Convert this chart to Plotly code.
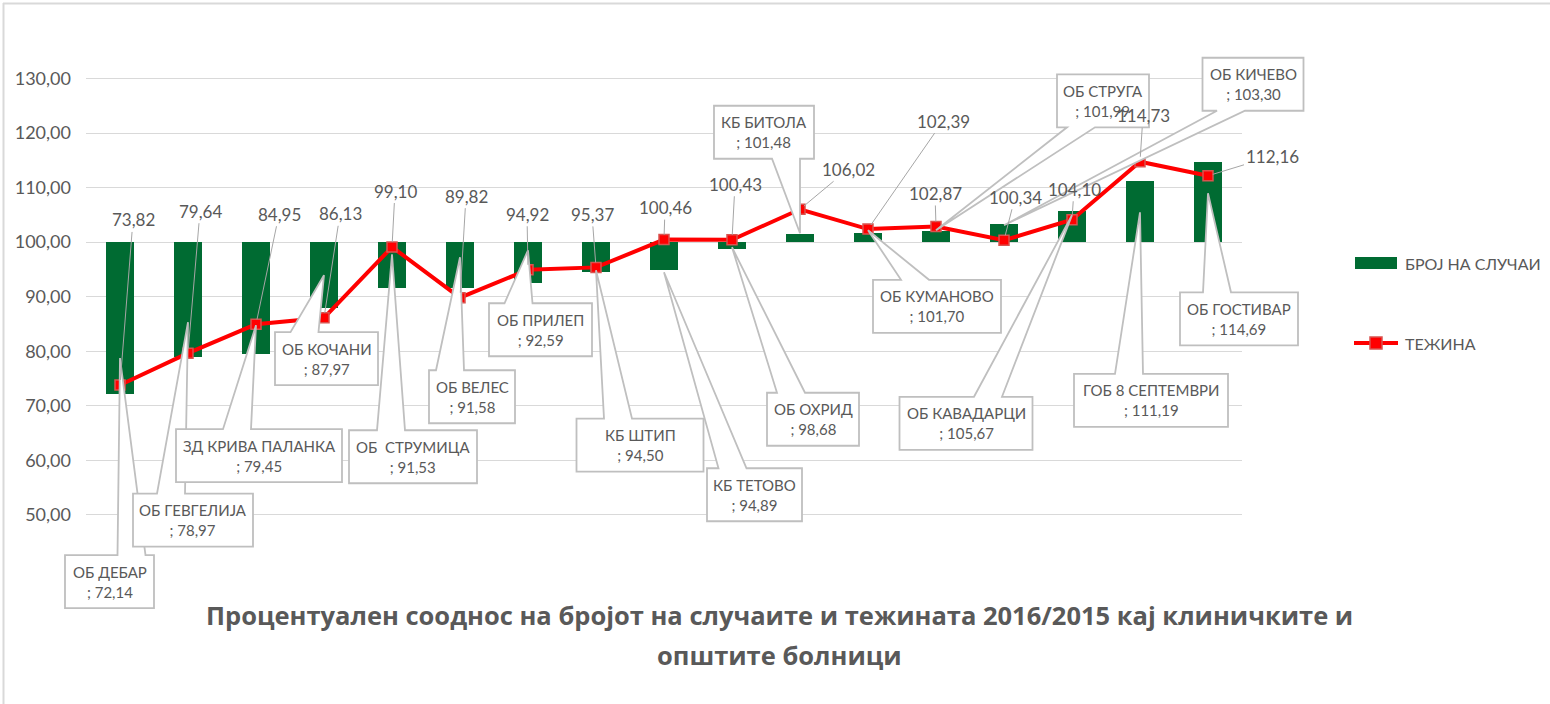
import plotly.graph_objects as go

# ---------------- data ----------------
categories = ["ОБ ДЕБАР", "ОБ ГЕВГЕЛИЈА", "ЗД КРИВА ПАЛАНКА", "ОБ КОЧАНИ",
              "ОБ\u00a0 СТРУМИЦА", "ОБ ВЕЛЕС", "ОБ ПРИЛЕП", "КБ ШТИП", "КБ ТЕТОВО",
              "ОБ ОХРИД", "КБ БИТОЛА", "ОБ КУМАНОВО", "ОБ СТРУГА", "ОБ КИЧЕВО",
              "ОБ КАВАДАРЦИ", "ГОБ 8 СЕПТЕМВРИ", "ОБ ГОСТИВАР"]
cases = [72.14, 78.97, 79.45, 87.97, 91.53, 91.58, 92.59, 94.50, 94.89,
         98.68, 101.48, 101.70, 101.99, 103.30, 105.67, 111.19, 114.69]
weight = [73.82, 79.64, 84.95, 86.13, 99.10, 89.82, 94.92, 95.37, 100.46,
          100.43, 106.02, 102.39, 102.87, 100.34, 104.10, 114.73, 112.16]
y_ticks = [50, 60, 70, 80, 90, 100, 110, 120, 130]
BASE = 100
series_names = ["БРОЈ НА СЛУЧАИ", "ТЕЖИНА"]
title_lines = ["Процентуален сооднос на бројот на случаите и тежината 2016/2015 кај клиничките и",
               "општите болници"]

# ---------------- label placement (pixels / tip values) ----------------
# bar callouts: wedge tip value, box-centre offset from tip (px, +down), box width (px)
callout_tip = [78.74, 85.33, 84.78, 93.94, 97.78, 97.23, 98.51, 94.85, 94.48,
               99.06, 101.63, 102.17, 102.17, 103.09, 104.92, 105.47, 108.95]
callout_dx = [-10.5, 5, 3, 2.5, 21, 12, 12.5, 44, 90.5, 81, -36, 69, 167, 249, -106, 11, 31]
callout_dy = [223.5, 198, 130.5, 83.5, 202.5, 139.5, 79.5, 175, 222.5, 172, -101, 76,
              -129.5, -141, 208, 188, 125.5]
callout_w = [89, 120, 166, 103, 128, 86, 103, 127, 95, 92, 100, 128, 92, 101, 133, 154, 118]
CALLOUT_H = 53
# line labels: offset of text centre from marker (px, +down)
lab_dx = [13, 12, 23, 16, 3, 6, -1, -4, 1, 3, 48, 75, -1, 11, 2, 3, 64]
lab_dy = [-165, -142, -110, -104, -56, -101.5, -55.6, -53, -32, -55.5, -40, -108,
          -33, -43, -30.5, -46, -19.5]

# ---------------- geometry ----------------
FW, FH = 1550, 704
L, R, T, B = 86, 1242, 73, 564
PW, PH = R - L, B - T
XR = (-0.5, len(categories) - 0.5)
YR = (41, 131)

GREEN = "#006B32"
RED = "#FF0000"
GREY_TXT = "#595959"
GRID = "#D9D9D9"
BOX = "#BFBFBF"
FONT = "Lato"


def px(xv):
    return L + (xv - XR[0]) / (XR[1] - XR[0]) * PW


def py(yv):
    return T + (YR[1] - yv) / (YR[1] - YR[0]) * PH


def paper_x(p):
    return (p - L) / PW


def paper_y(p):
    return (B - p) / PH


def fmt(v):
    return f"{v:.2f}".replace(".", ",")


xs = list(range(len(categories)))

fig = go.Figure()
fig.add_trace(go.Bar(
    x=xs, y=[c - BASE for c in cases], base=BASE, width=0.4,
    marker=dict(color=GREEN, line=dict(width=0)), name=series_names[0],
    showlegend=False))
fig.add_trace(go.Scatter(
    x=xs, y=weight, mode="lines+markers", name=series_names[1],
    line=dict(color=RED, width=4),
    marker=dict(symbol="square", size=10, color=RED,
                line=dict(color="#D9534F", width=1.5)),
    showlegend=False))

shapes = []
annotations = []

# bar callouts: box + wedge as one outline (paper coords so nothing is clipped)
for i, (name, val) in enumerate(zip(categories, cases)):
    tx, ty = px(i), py(callout_tip[i])
    cx, cy = tx + callout_dx[i], ty + callout_dy[i]
    w2, h2 = callout_w[i] / 2, CALLOUT_H / 2
    x0, x1, y0, y1 = cx - w2, cx + w2, cy - h2, cy + h2
    s = 1 if tx > cx else -1
    bc = cx + s * min(22, w2 - 16)
    bl, br = bc - 14, bc + 14
    if ty < y0:   # tip above the box
        pts = [(x0, y0), (bl, y0), (tx, ty), (br, y0), (x1, y0), (x1, y1), (x0, y1)]
    else:         # tip below the box
        pts = [(x0, y0), (x1, y0), (x1, y1), (br, y1), (tx, ty), (bl, y1), (x0, y1)]
    path = "M " + " L ".join(f"{paper_x(a):.5f},{paper_y(b):.5f}" for a, b in pts) + " Z"
    shapes.append(dict(type="path", path=path, xref="paper", yref="paper",
                       fillcolor="white", line=dict(color=BOX, width=1.8),
                       layer="above"))
    annotations.append(dict(
        x=i, y=callout_tip[i], xref="x", yref="y",
        text=f"{name}<br>; {fmt(val)}", showarrow=False,
        xshift=callout_dx[i], yshift=-callout_dy[i], xanchor="center",
        yanchor="middle", align="center",
        font=dict(family=FONT, size=15, color=GREY_TXT)))

# line value labels with leader lines
for i, v in enumerate(weight):
    annotations.append(dict(
        x=i, y=v, xref="x", yref="y", text=fmt(v), showarrow=True,
        arrowhead=0, arrowwidth=1, arrowcolor="#A6A6A6", standoff=5,
        ax=lab_dx[i], ay=lab_dy[i],
        font=dict(family=FONT, size=17, color=GREY_TXT)))

# manual legend
shapes.append(dict(type="rect", xref="paper", yref="paper",
                   x0=paper_x(1355), x1=paper_x(1397), y0=paper_y(269), y1=paper_y(257),
                   fillcolor=GREEN, line=dict(width=0)))
shapes.append(dict(type="line", xref="paper", yref="paper",
                   x0=paper_x(1354), x1=paper_x(1398), y0=paper_y(343), y1=paper_y(343),
                   line=dict(color=RED, width=4)))
shapes.append(dict(type="rect", xref="paper", yref="paper",
                   x0=paper_x(1370), x1=paper_x(1382), y0=paper_y(349), y1=paper_y(337),
                   fillcolor=RED, line=dict(color="#D9534F", width=1.5)))
for name, yy in zip(series_names, [263, 343]):
    annotations.append(dict(x=paper_x(1403), y=paper_y(yy), xref="paper", yref="paper",
                            text=name, showarrow=False, xanchor="left", yanchor="middle",
                            font=dict(family=FONT, size=16, color=GREY_TXT)))

# title (two lines, below plot)
for line, yy in zip(title_lines, [615, 655]):
    annotations.append(dict(x=paper_x(779), y=paper_y(yy), xref="paper", yref="paper",
                            text=f"<b>{line}</b>", showarrow=False, xanchor="center",
                            yanchor="middle",
                            font=dict(family="Open Sans", size=25.5, color=GREY_TXT)))

# outer frame
shapes.append(dict(type="line", xref="paper", yref="paper",
                   x0=paper_x(3), x1=paper_x(1550), y0=paper_y(3.5), y1=paper_y(3.5),
                   line=dict(color=GRID, width=2)))
shapes.append(dict(type="line", xref="paper", yref="paper",
                   x0=paper_x(3.5), x1=paper_x(3.5), y0=paper_y(3), y1=paper_y(704),
                   line=dict(color=GRID, width=2)))

fig.update_layout(
    width=FW, height=FH,
    margin=dict(l=L, r=FW - R, t=T, b=FH - B, pad=0),
    paper_bgcolor="white", plot_bgcolor="white",
    separators=", ",
    bargap=0,
    font=dict(family=FONT, color=GREY_TXT),
    xaxis=dict(range=list(XR), showticklabels=False, showgrid=False, zeroline=False,
               showline=False, ticks=""),
    yaxis=dict(range=list(YR), tickvals=y_ticks, tickformat=".2f",
               showgrid=True, gridcolor=GRID, gridwidth=1, zeroline=False,
               showline=False, ticks="", ticklabelstandoff=14,
               tickfont=dict(family=FONT, size=18, color=GREY_TXT)),
    shapes=shapes, annotations=annotations, showlegend=False,
)

fig.write_html("out.html", config={"displayModeBar": False},
               post_script="document.body.style.margin='0px';document.body.style.overflow='hidden';")
